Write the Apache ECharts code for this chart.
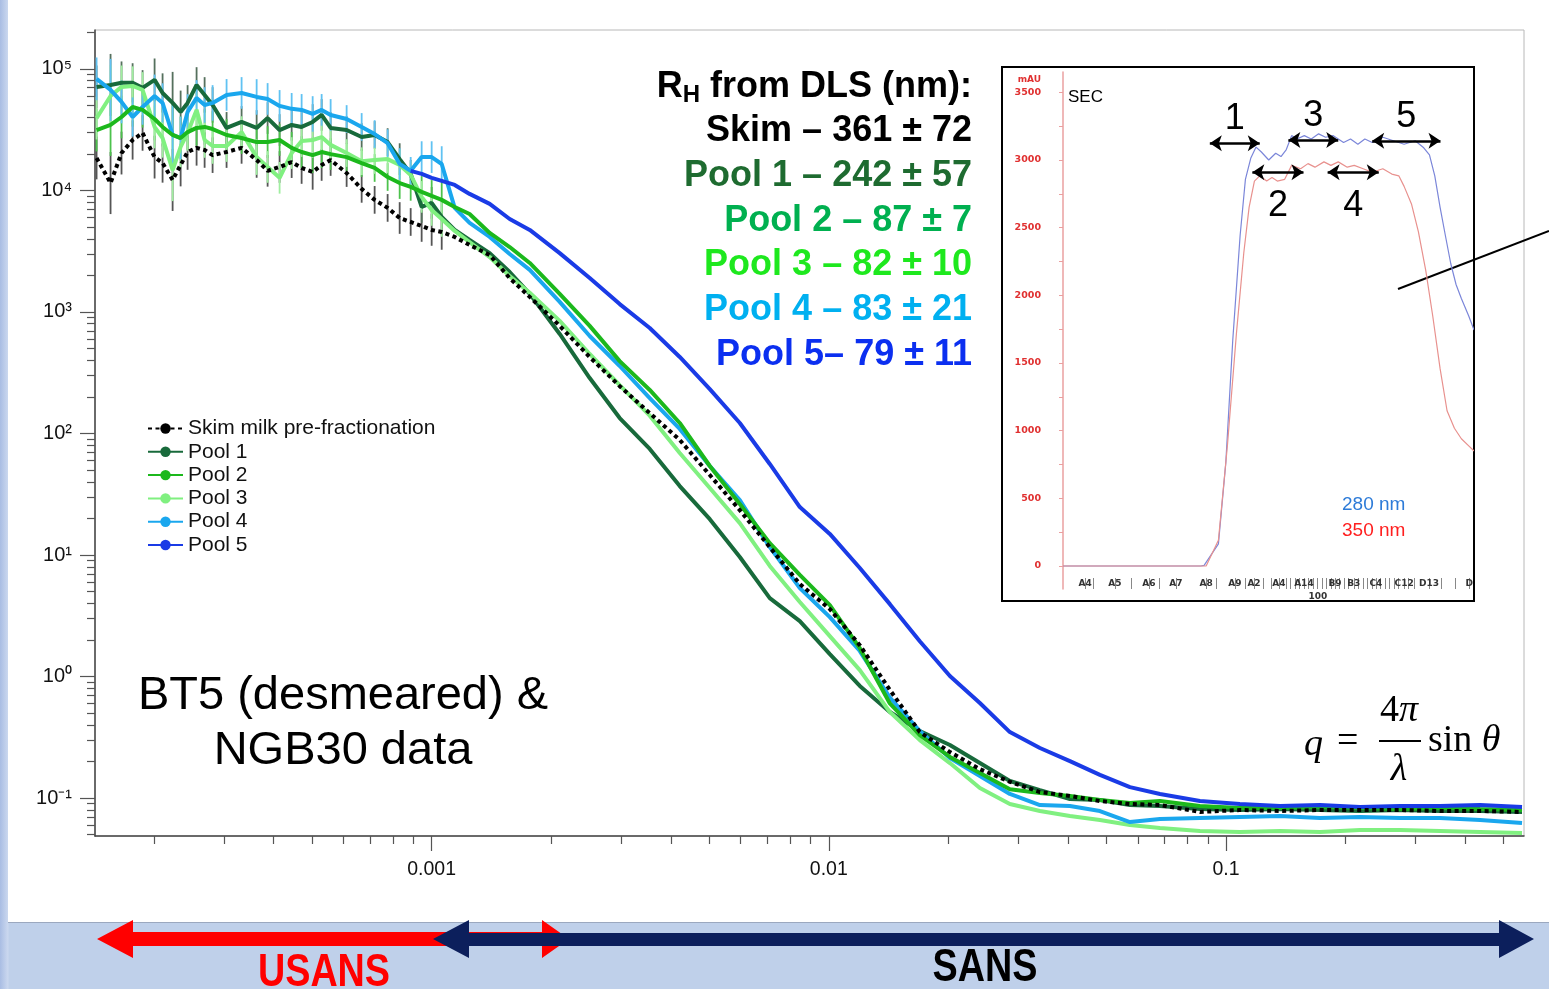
<!DOCTYPE html>
<html lang="en">
<head>
<meta charset="utf-8">
<title>USANS / SANS of skim milk SEC pools</title>
<script src="https://cdn.jsdelivr.net/npm/echarts@6.0.0/dist/echarts.min.js"></script>
<style>
  html, body { margin: 0; padding: 0; }
  body { width: 1549px; height: 989px; position: relative; overflow: hidden;
         background: linear-gradient(to right, #a9bde3 0px, #cbd8ef 8px, #bfd0ea 9px); }
  #panel { position: absolute; left: 8px; top: 0; width: 1541px; height: 922px;
           background: #fff; border-bottom: 1px solid #9ba8bf; }
  #chart { position: absolute; left: 0; top: 0; width: 1549px; height: 989px; }
</style>
</head>
<body>
<div id="panel"></div>
<div id="chart"></div>
<script>
// q (1/A) of the USANS points, shared by every sample
const qUsans = [1.433e-4, 1.554e-4, 1.656e-4, 1.766e-4, 1.871e-4, 2.006e-4, 2.101e-4, 2.227e-4,
  2.333e-4, 2.429e-4, 2.559e-4, 2.681e-4, 2.808e-4, 3.045e-4, 3.322e-4, 3.625e-4, 3.863e-4,
  4.141e-4, 4.441e-4, 4.705e-4, 5.016e-4, 5.284e-4, 5.567e-4, 6.108e-4, 6.664e-4, 7.185e-4,
  7.747e-4, 8.307e-4, 8.855e-4, 9.436e-4, 1.000e-3, 1.060e-3];
// q of the SANS points
const qSans = [1.143e-3, 1.246e-3, 1.400e-3, 1.572e-3, 1.766e-3, 2.101e-3, 2.500e-3, 2.975e-3,
  3.541e-3, 4.214e-3, 5.016e-3, 5.969e-3, 7.102e-3, 8.453e-3, 1.006e-2, 1.197e-2, 1.425e-2,
  1.695e-2, 2.018e-2, 2.401e-2, 2.857e-2, 3.401e-2, 4.047e-2, 4.816e-2, 5.731e-2, 6.821e-2,
  8.601e-2, 0.1084, 0.1368, 0.1725, 0.2175, 0.2743, 0.3459, 0.4363, 0.5566];
// multiplicative size of the USANS error bars
const usansErr = [1.5, 1.8, 1.5, 1.45, 1.4, 1.5, 1.45, 1.8, 1.5, 1.4, 1.4, 1.4, 1.4, 1.35, 1.35, 1.4,
  1.35, 1.35, 1.35, 1.35, 1.4, 1.35, 1.35, 1.3, 1.3, 1.3, 1.3, 1.35, 1.3, 1.35, 1.35, 1.4];

const skimUsans = [18500, 11500, 20300, 26000, 29700, 18800, 16800, 12200, 16200, 20700, 22400,
  21500, 19500, 20700, 22400, 17800, 14500, 15600, 17100, 15300, 14200, 16200, 17800, 13900,
  10300, 8360, 7180, 5930, 5500, 5100, 4730, 4550];
const skimSans = [4140, 3560, 2940, 1900, 1330, 768, 426, 245, 147, 88.5, 45.5, 23.4, 11.6, 5.77,
  3.59, 1.81, 0.775, 0.349, 0.239, 0.173, 0.136, 0.112, 0.104, 0.0945, 0.0893, 0.0876, 0.0768,
  0.0797, 0.0782, 0.0797, 0.0797, 0.0797, 0.0782, 0.0782, 0.0768];

const pool1Usans = [71100, 73800, 76800, 76800, 69800, 81200, 63400, 52500, 44200, 52500, 73800,
  61100, 50500, 32700, 36600, 32700, 39400, 31400, 34600, 33300, 36600, 41800, 32700, 31400,
  27500, 28600, 25000, 18100, 13700, 7310, 7900, 6050];
const pool1Sans = [4730, 3910, 3050, 2130, 1410, 659, 286, 134, 74.6, 36.9, 19.7, 9.63, 4.42, 2.86,
  1.53, 0.836, 0.51, 0.356, 0.273, 0.194, 0.138, 0.116, 0.0981, 0.0963, 0.0876, 0.0859, 0.0812,
  0.0797, 0.0812, 0.0797, 0.0782, 0.0797, 0.0782, 0.0782, 0.0768];

const pool2Usans = [31400, 34600, 40200, 48600, 46000, 38700, 33300, 28600, 27000, 30200, 32700,
  33300, 32000, 28600, 27000, 25000, 25000, 26000, 22400, 20700, 19500, 20700, 19900, 18800,
  16800, 15300, 12900, 11500, 10700, 9720, 9010, 8360];
const pool2Sans = [7310, 6400, 4470, 3420, 2530, 1410, 768, 394, 228, 122, 54.0, 26.3, 12.5, 6.85,
  3.87, 1.71, 0.60, 0.330, 0.218, 0.161, 0.118, 0.110, 0.104, 0.0963, 0.0910, 0.0945, 0.0859,
  0.0828, 0.0828, 0.0844, 0.0828, 0.0812, 0.0828, 0.0812, 0.0797];

const pool3Usans = [39400, 59900, 71100, 72400, 67200, 33300, 27000, 14700, 22800, 29700, 46000,
  26000, 23200, 23200, 30200, 18800, 15600, 12700, 20300, 25500, 26000, 27500, 23700, 20300,
  17400, 17800, 18100, 16200, 13400, 8850, 6910, 5820];
const pool3Sans = [4640, 3760, 2830, 1970, 1440, 844, 451, 250, 140, 69.1, 35.6, 18.3, 8.12, 4.10,
  2.15, 1.13, 0.510, 0.300, 0.194, 0.121, 0.0893, 0.0782, 0.0711, 0.0659, 0.0599, 0.0566, 0.0535,
  0.0525, 0.0535, 0.0525, 0.0545, 0.0545, 0.0535, 0.0525, 0.0515];

const pool4Usans = [82800, 67200, 53500, 40200, 48600, 59900, 52500, 28600, 27000, 44200, 57700,
  50500, 52500, 61100, 63400, 58800, 56600, 49600, 46900, 46000, 42600, 46000, 41800, 38700,
  33300, 29100, 24500, 16500, 14500, 18800, 18800, 16500];
const pool4Sans = [7180, 5400, 4140, 3000, 2220, 1210, 634, 359, 195, 109, 54.0, 28.3, 11.6, 5.35,
  3.08, 1.62, 0.67, 0.356, 0.213, 0.152, 0.108, 0.0876, 0.0859, 0.0782, 0.0634, 0.0672, 0.0685,
  0.0698, 0.0711, 0.0685, 0.0698, 0.0685, 0.0685, 0.0659, 0.0622];

const pool5Usans = [null, null, null, null, null, null, null, null, null, null, null, null, null,
  null, null, null, null, null, null, null, null, null, null, null, null, null, null, null,
  14500, 13700, 12700, 12000];
const pool5Sans = [11100, 9360, 7750, 5820, 4730, 3050, 1900, 1160, 738, 426, 232, 122, 56.1, 24.8,
  14.9, 7.82, 3.94, 1.95, 1.01, 0.605, 0.349, 0.258, 0.201, 0.155, 0.123, 0.108, 0.0945, 0.0893,
  0.0859, 0.0876, 0.0844, 0.0859, 0.0859, 0.0876, 0.0844];

const sampleNames = ['Skim milk pre-fractionation', 'Pool 1', 'Pool 2', 'Pool 3', 'Pool 4', 'Pool 5'];

// hydrodynamic radii from DLS
const dlsTexts = ['Skim – 361 ± 72', 'Pool 1 – 242 ± 57', 'Pool 2 – 87 ± 7', 'Pool 3 – 82 ± 10',
  'Pool 4 – 83 ± 21', 'Pool 5– 79 ± 11'];

// SEC chromatogram inset
const secTime280 = [0, 33.7, 34.5, 38.0, 39.8, 41.5, 43.3, 44.6, 45.9, 47.2, 48.5, 50.3, 52.0, 53.3,
  54.6, 55.9, 57.2, 59.0, 60.7, 62.5, 64.2, 66.0, 68.6, 70.3, 72.1, 73.8, 75.6, 78.2, 80.8, 83.4,
  86.1, 88.2, 89.6, 90.9, 92.2, 93.5, 94.8, 96.1, 97.4, 99.2, 100.5];
const secAbs280 = [0, 0, 5, 163, 760, 1665, 2440, 2857, 3012, 3095, 3059, 3000, 3050, 3025, 3077,
  3180, 3155, 3180, 3155, 3193, 3168, 3180, 3129, 3155, 3116, 3155, 3129, 3168, 3142, 3116, 3142,
  3090, 3038, 2883, 2650, 2440, 2235, 2080, 1976, 1847, 1743];
const secTime350 = [0, 35.0, 38.0, 40.2, 42.4, 44.2, 45.5, 46.8, 48.1, 49.8, 51.1, 52.4, 54.2, 55.9,
  58.1, 59.9, 61.6, 63.8, 65.5, 67.3, 69.5, 71.2, 73.4, 75.6, 78.2, 80.4, 82.1, 83.4, 85.2, 86.9,
  88.7, 90.4, 92.2, 93.9, 95.7, 97.4, 99.2, 100.5];
const secAbs350 = [0, 0, 190, 890, 1717, 2313, 2650, 2844, 2883, 2844, 2870, 2844, 2857, 2960, 2935,
  2973, 2947, 2986, 2960, 2986, 2947, 2960, 2935, 2909, 2935, 2896, 2883, 2805, 2675, 2468, 2183,
  1847, 1458, 1147, 1018, 940, 888, 850];
const fracLabels = ['A4', 'A5', 'A6', 'A7', 'A8', 'A9', 'A2', 'A4', 'A14', 'B9', 'B3', 'C4', 'C12', 'D13', 'D'];
const fracPos = [5.4, 12.7, 21.0, 27.6, 35.0, 42.0, 46.7, 52.8, 58.9, 66.5, 71.1, 76.5, 83.4, 89.5, 99.3];
const fracTicks = [5.4, 7.5, 12.7, 16.6, 21.0, 23.5, 27.6, 35.0, 37.5, 42.0, 44.5, 46.7, 49.0, 50.8,
  52.8, 54.5, 55.6, 56.7, 57.8, 58.9, 60.0, 61.1, 62.2, 63.3, 64.4, 65.5, 66.5, 67.6, 68.7, 69.8,
  71.1, 72.2, 73.3, 74.4, 75.5, 76.5, 77.6, 78.7, 79.8, 80.9, 82.0, 83.4, 84.5, 86.0, 89.5, 92.5,
  96.0, 99.3];
const poolArrows = [
  { n: '1', from: 35.9, to: 48.1, at: 3124, side: 'top' },
  { n: '2', from: 46.3, to: 58.8, at: 2909, side: 'bottom' },
  { n: '3', from: 55.1, to: 67.3, at: 3147, side: 'top' },
  { n: '4', from: 64.7, to: 77.2, at: 2909, side: 'bottom' },
  { n: '5', from: 75.6, to: 92.3, at: 3142, side: 'top' }
];

const SANS = '"Liberation Sans", Arial, Helvetica, sans-serif';
const SERIF = '"Liberation Serif", "DejaVu Serif", serif';

const lineColors = ['#000000', '#186a3b', '#1cb81c', '#80f080', '#1aa7ee', '#1a3be6'];
const errColors = ['#555555', '#55705d', '#4cc24c', '#a0eea0', '#60c2f2', null];
const dlsColors = ['#000000', '#1e6b30', '#00b050', '#1ee81e', '#00b0f0', '#0b2ff0'];
const lineZ = [6, 3, 5, 3, 4, 5];

const X_MIN = 1.42e-4, X_MAX = 0.563;
const Y_MIN = 0.0487, Y_MAX = 2.09e5;

const qAll = qUsans.concat(qSans);
const usansSets = [skimUsans, pool1Usans, pool2Usans, pool3Usans, pool4Usans, pool5Usans];
const sansSets = [skimSans, pool1Sans, pool2Sans, pool3Sans, pool4Sans, pool5Sans];

function toPoints(usans, sans) {
  const pts = [];
  usans.concat(sans).forEach((v, i) => { if (v != null) pts.push([qAll[i], v]); });
  return pts;
}

function toErrBars(usans) {
  const bars = [];
  usans.forEach((v, i) => {
    if (v != null) bars.push([qUsans[i], v / usansErr[i], v * usansErr[i]]);
  });
  return bars;
}

function minorTicks(lowExp, highExp, lo, hi) {
  const out = [];
  for (let e = lowExp; e <= highExp; e++) {
    for (let m = 2; m <= 9; m++) {
      const v = +(m * Math.pow(10, e)).toPrecision(3);
      if (v >= lo && v <= hi) out.push(v);
    }
  }
  return out;
}

const SUP = { '-': '⁻', '0': '⁰', '1': '¹', '2': '²', '3': '³', '4': '⁴', '5': '⁵' };
const powerLabel = v => '10' + String(Math.round(Math.log10(v))).split('').map(c => SUP[c]).join('');

const series = [];
sampleNames.forEach((name, i) => {
  if (errColors[i]) {
    const color = errColors[i];
    series.push({
      type: 'custom',
      name: name + ' error',
      xAxisIndex: 0,
      yAxisIndex: 0,
      z: 2,
      silent: true,
      data: toErrBars(usansSets[i]),
      encode: { x: 0, y: [1, 2] },
      renderItem: (params, api) => {
        const a = api.coord([api.value(0), api.value(1)]);
        const b = api.coord([api.value(0), api.value(2)]);
        return {
          type: 'line',
          shape: { x1: a[0], y1: a[1], x2: b[0], y2: b[1] },
          style: { stroke: color, lineWidth: 1.8 }
        };
      }
    });
  }
  series.push({
    type: 'line',
    name: name,
    xAxisIndex: 0,
    yAxisIndex: 0,
    z: lineZ[i],
    data: toPoints(usansSets[i], sansSets[i]),
    showSymbol: false,
    symbol: 'circle',
    symbolSize: 9,
    silent: true,
    itemStyle: { color: lineColors[i] },
    lineStyle: { color: lineColors[i], width: 4, type: i === 0 ? [4, 3.5] : 'solid' }
  });
});

series.push({
  type: 'line',
  name: '280 nm',
  xAxisIndex: 2,
  yAxisIndex: 2,
  data: secTime280.map((t, i) => [t, secAbs280[i]]),
  showSymbol: false,
  silent: true,
  itemStyle: { color: '#7b86d9' },
  lineStyle: { color: '#7b86d9', width: 1.2 },
  markLine: {
    silent: true,
    symbol: ['arrow', 'arrow'],
    symbolSize: [12, 12],
    lineStyle: { color: '#000', width: 2.5, type: 'solid' },
    data: poolArrows.map(a => [
      {
        coord: [a.from, a.at],
        label: {
          show: true,
          formatter: a.n,
          position: a.side === 'top' ? 'insideMiddleTop' : 'insideMiddleBottom',
          distance: a.side === 'top' ? 6 : 16,
          fontSize: 36,
          fontFamily: SANS,
          color: '#000'
        }
      },
      { coord: [a.to, a.at] }
    ])
  }
});
series.push({
  type: 'line',
  name: '350 nm',
  xAxisIndex: 2,
  yAxisIndex: 2,
  data: secTime350.map((t, i) => [t, secAbs350[i]]),
  showSymbol: false,
  silent: true,
  itemStyle: { color: '#e8918e' },
  lineStyle: { color: '#e8918e', width: 1.2 }
});

const majorQ = [0.001, 0.01, 0.1];
const majorI = [0.1, 1, 10, 100, 1000, 1e4, 1e5];
const secLabelVals = [0, 500, 1000, 1500, 2000, 2500, 3000, 3500];
const secTickVals = [0, 250, 500, 750, 1000, 1250, 1500, 1750, 2000, 2250, 2500, 2750, 3000, 3250, 3500];

const chart = echarts.init(document.getElementById('chart'));

chart.setOption({
  animation: false,
  backgroundColor: 'transparent',
  textStyle: { fontFamily: SANS },
  grid: [
    { left: 95, top: 30, right: 25, bottom: 153, show: true, borderColor: '#b8b8b8', borderWidth: 1,
      backgroundColor: 'transparent', outerBoundsMode: 'none' },
    { left: 1063, top: 72, right: 77, bottom: 400, outerBoundsMode: 'none' }
  ],
  xAxis: [
    {
      type: 'log', gridIndex: 0, position: 'bottom', min: X_MIN, max: X_MAX,
      axisLine: { show: true, onZero: false, lineStyle: { color: '#444', width: 1.5 } },
      axisTick: { customValues: majorQ, length: 15, lineStyle: { color: '#555', width: 1.2 } },
      axisLabel: {
        customValues: majorQ, margin: 24, fontSize: 19.5, color: '#111',
        formatter: v => String(+(+v).toPrecision(2))
      },
      splitLine: { show: false }, minorTick: { show: false }
    },
    {
      type: 'log', gridIndex: 0, position: 'bottom', min: X_MIN, max: X_MAX,
      axisLine: { show: false, onZero: false },
      axisTick: { customValues: minorTicks(-4, -1, X_MIN, X_MAX), length: 8, lineStyle: { color: '#555', width: 1.2 } },
      axisLabel: { show: false },
      splitLine: { show: false }
    },
    {
      type: 'value', gridIndex: 1, min: 0, max: 100,
      axisLine: { show: false, onZero: false },
      axisTick: { customValues: fracTicks, inside: true, length: 11, lineStyle: { color: '#888', width: 1 } },
      axisLabel: {
        customValues: fracPos, inside: true, margin: 1, fontSize: 9, fontWeight: 'bold', color: '#333',
        fontFamily: '"DejaVu Sans", sans-serif',
        formatter: v => fracLabels[fracPos.indexOf(v)] || ''
      },
      splitLine: { show: false }
    },
    {
      type: 'value', gridIndex: 1, min: 0, max: 100, position: 'bottom',
      axisLine: { show: false, onZero: false },
      axisTick: { show: false },
      axisLabel: { customValues: [62.3], margin: 3, fontSize: 9, fontWeight: 'bold', color: '#333',
        fontFamily: '"DejaVu Sans", sans-serif', formatter: () => '100' },
      splitLine: { show: false }
    }
  ],
  yAxis: [
    {
      type: 'log', gridIndex: 0, position: 'left', min: Y_MIN, max: Y_MAX,
      axisLine: { show: true, onZero: false, lineStyle: { color: '#444', width: 1.5 } },
      axisTick: { customValues: majorI, length: 15, lineStyle: { color: '#555', width: 1.2 } },
      axisLabel: { customValues: majorI, margin: 23, fontSize: 20, color: '#111', formatter: powerLabel },
      splitLine: { show: false }, minorTick: { show: false }
    },
    {
      type: 'log', gridIndex: 0, position: 'left', min: Y_MIN, max: Y_MAX,
      axisLine: { show: false, onZero: false },
      axisTick: { customValues: minorTicks(-2, 5, Y_MIN, Y_MAX), length: 8, lineStyle: { color: '#555', width: 1.2 } },
      axisLabel: { show: false },
      splitLine: { show: false }
    },
    {
      type: 'value', gridIndex: 1, position: 'left', min: -170, max: 3650,
      name: 'mAU', nameLocation: 'end', nameGap: -12,
      nameTextStyle: { align: 'right', padding: [0, 22, 0, 0], color: '#e03030', fontSize: 9,
        fontWeight: 'bold', fontFamily: '"DejaVu Sans", sans-serif' },
      axisLine: { show: true, onZero: false, lineStyle: { color: '#eaa0a0', width: 1.5 } },
      axisTick: { customValues: secTickVals, length: 4, lineStyle: { color: '#eaa0a0' } },
      axisLabel: { customValues: secLabelVals, margin: 22, fontSize: 9.5, fontWeight: 'bold', color: '#e03030',
        fontFamily: '"DejaVu Sans", sans-serif', formatter: v => String(v) },
      splitLine: { show: false }
    }
  ],
  legend: [
    {
      data: sampleNames, orient: 'vertical', left: 147, top: 418, padding: 0,
      itemGap: 2.3, itemWidth: 35, itemHeight: 13,
      textStyle: { fontSize: 21, lineHeight: 21, color: '#111', fontFamily: SANS },
      selectedMode: false
    },
    {
      data: [
        { name: '280 nm', icon: 'none', textStyle: { color: '#2d7bd8' } },
        { name: '350 nm', icon: 'none', textStyle: { color: '#ff1f1f' } }
      ],
      orient: 'vertical', left: 1337, top: 495, padding: 0, itemGap: 7, itemWidth: 0, itemHeight: 10,
      textStyle: { fontSize: 19, lineHeight: 19, fontFamily: SANS },
      selectedMode: false
    }
  ],
  graphic: [
    // inset frame and pointer
    { type: 'rect', shape: { x: 1002, y: 67, width: 472, height: 534 }, style: { fill: null, stroke: '#000', lineWidth: 2 } },
    { type: 'line', shape: { x1: 1398, y1: 289, x2: 1549, y2: 231 }, style: { stroke: '#000', lineWidth: 2 } },
    { type: 'text', x: 1068, y: 97, style: { text: 'SEC', font: `17px ${SANS}`, fill: '#000', verticalAlign: 'middle' } },
    // DLS radii
    {
      type: 'text', x: 972, y: 87,
      style: {
        text: '{a|R}{s|H}{a| from DLS (nm):}', align: 'right', verticalAlign: 'middle',
        rich: {
          a: { fontSize: 36, fontWeight: 'bold', fontFamily: SANS, fill: '#000', lineHeight: 40 },
          s: { fontSize: 24, fontWeight: 'bold', fontFamily: SANS, fill: '#000', lineHeight: 16, verticalAlign: 'bottom' }
        }
      }
    },
    ...dlsTexts.map((t, i) => ({
      type: 'text', x: 972, y: 131 + i * 44.8,
      style: { text: t, font: `bold 36px ${SANS}`, fill: dlsColors[i], align: 'right', verticalAlign: 'middle' }
    })),
    // data source note
    {
      type: 'text', x: 343, y: 724,
      style: { text: 'BT5 (desmeared) &\nNGB30 data', font: `47px ${SANS}`, lineHeight: 55, fill: '#000',
        align: 'center', verticalAlign: 'middle' }
    },
    // q = 4π/λ sin θ
    { type: 'text', x: 1304, y: 745, style: { text: 'q', font: `italic 38px ${SERIF}`, fill: '#000', verticalAlign: 'middle' } },
    { type: 'text', x: 1337, y: 742, style: { text: '=', font: `38px ${SERIF}`, fill: '#000', verticalAlign: 'middle' } },
    {
      type: 'text', x: 1399, y: 711,
      style: { text: '{u|4}{i|π}', align: 'center', verticalAlign: 'middle',
        rich: { u: { font: `38px ${SERIF}`, fill: '#000' }, i: { font: `italic 38px ${SERIF}`, fill: '#000' } } }
    },
    { type: 'line', shape: { x1: 1379, y1: 741, x2: 1421, y2: 741 }, style: { stroke: '#000', lineWidth: 2 } },
    { type: 'text', x: 1399, y: 770, style: { text: 'λ', font: `italic 38px ${SERIF}`, fill: '#000', align: 'center', verticalAlign: 'middle' } },
    {
      type: 'text', x: 1428, y: 741,
      style: { text: '{u|sin }{i|θ}', verticalAlign: 'middle',
        rich: { u: { font: `38px ${SERIF}`, fill: '#000' }, i: { font: `italic 38px ${SERIF}`, fill: '#000' } } }
    },
    // USANS / SANS ranges
    {
      type: 'polygon',
      shape: { points: [[97, 939], [133, 920], [133, 932], [542, 932], [542, 920], [569, 939], [542, 958], [542, 946], [133, 946], [133, 958]] },
      style: { fill: '#ff0000' }
    },
    {
      type: 'polygon',
      shape: { points: [[433, 939], [469, 920], [469, 933], [1499, 933], [1499, 920], [1534, 939], [1499, 958], [1499, 946], [469, 946], [469, 958]] },
      style: { fill: '#0c1f5c' }
    },
    { type: 'text', x: 324, y: 973, scaleX: 0.82,
      style: { text: 'USANS', font: `bold 46px ${SANS}`, fill: '#ff0000', align: 'center', verticalAlign: 'middle' } },
    { type: 'text', x: 985, y: 968, scaleX: 0.82,
      style: { text: 'SANS', font: `bold 46px ${SANS}`, fill: '#000', align: 'center', verticalAlign: 'middle' } }
  ],
  series: series
});
</script>
</body>
</html>
